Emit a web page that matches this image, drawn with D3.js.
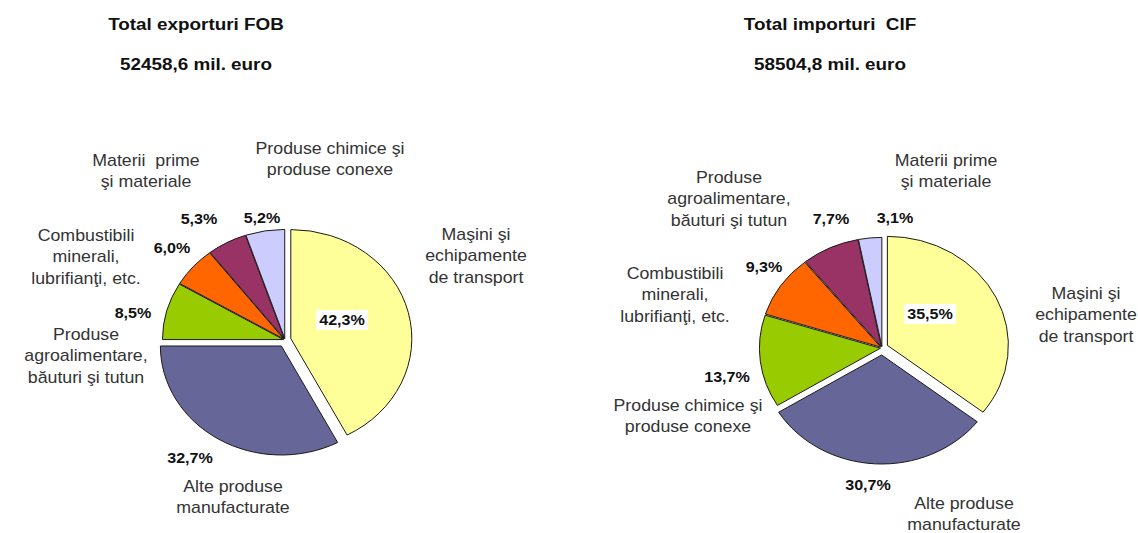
<!DOCTYPE html>
<html>
<head>
<meta charset="utf-8">
<script src="https://cdn.jsdelivr.net/npm/d3@7"></script>
<style>
  html, body { margin: 0; padding: 0; background: #fff; }
  svg { display: block; }
  svg text { white-space: pre; }
</style>
</head>
<body>
<svg id="chart" width="1138" height="533"></svg>
<script>
// Structure of trade by product group (% of total)
const exportTitle = ["Total exporturi FOB", "52458,6 mil. euro"];
const exportCategories = [
  "Maşini şi echipamente de transport",
  "Alte produse manufacturate",
  "Produse agroalimentare, băuturi şi tutun",
  "Combustibili minerali, lubrifianţi, etc.",
  "Materii prime şi materiale",
  "Produse chimice şi produse conexe"
];
const exportValues = [42.3, 32.7, 8.5, 6.0, 5.3, 5.2];

const importTitle = ["Total importuri  CIF", "58504,8 mil. euro"];
const importCategories = [
  "Maşini şi echipamente de transport",
  "Alte produse manufacturate",
  "Produse chimice şi produse conexe",
  "Combustibili minerali, lubrifianţi, etc.",
  "Produse agroalimentare, băuturi şi tutun",
  "Materii prime şi materiale"
];
const importValues = [35.5, 30.7, 13.7, 9.3, 7.7, 3.1];

// How each category name is broken over lines
const labelLines = {
  "Maşini şi echipamente de transport": ["Maşini şi", "echipamente", "de transport"],
  "Alte produse manufacturate": ["Alte produse", "manufacturate"],
  "Produse agroalimentare, băuturi şi tutun": ["Produse", "agroalimentare,", "băuturi şi tutun"],
  "Combustibili minerali, lubrifianţi, etc.": ["Combustibili", "minerali,", "lubrifianţi, etc."],
  "Materii prime şi materiale": ["Materii prime", "şi materiale"],
  "Produse chimice şi produse conexe": ["Produse chimice şi", "produse conexe"]
};

// Slice fills, by position around the pie
const sliceColors = ["#FFFF99", "#666699", "#99CC00", "#FF6600", "#993366", "#CCCCFF"];

// Layout
const R = 109;          // pie radius
const SX = 1.11;        // horizontal stretch of the whole drawing
const explode = [6, 7, 1.6, 1.6, 1.6, 1.6];
const fontFamily = "'Liberation Sans', Arial, Helvetica, sans-serif";

const charts = [
  {
    title: exportTitle, categories: exportCategories, values: exportValues,
    titleX: 196, cx: 285, cy: 340,
    // percent label offsets from the pie centre
    pct: [[57, -20], [-95, 118], [-152, -27], [-113, -92], [-86, -121], [-23, -122]],
    // category label first-line centres (absolute), optional line override
    cat: [[476, 234], [233, 486], [86, 334], [86, 235], [146, 160, ["Materii  prime", "şi materiale"]], [330, 148]]
  },
  {
    title: importTitle, categories: importCategories, values: importValues,
    titleX: 830, cx: 882, cy: 348,
    pct: [[48, -34], [-14, 137], [-155, 29], [-118, -81], [-51, -129], [13, -130]],
    cat: [[1086, 293], [964, 503], [688, 405], [675, 273], [729, 177], [946, 160]]
  }
];

const svg = d3.select("#chart");
const pie = d3.pie().sort(null).value(d => d);
const arc = d3.arc().innerRadius(0).outerRadius(R);

function stretchedText(sel, x, y, txt) {
  return sel.append("text")
    .attr("transform", `translate(${x},${y}) scale(${SX},1)`)
    .attr("text-anchor", "middle")
    .attr("dy", "0.35em")
    .text(txt);
}

charts.forEach(c => {
  // Titles
  const tg = svg.append("g")
    .attr("font-family", fontFamily)
    .attr("font-weight", "bold")
    .attr("font-size", 17)
    .attr("fill", "#111");
  stretchedText(tg, c.titleX, 24, c.title[0]);
  stretchedText(tg, c.titleX, 64, c.title[1]);

  // Slices
  const arcs = pie(c.values);
  const g = svg.append("g").attr("transform", `translate(${c.cx},${c.cy})`);
  const sg = g.append("g").attr("transform", `scale(${SX},1)`);
  sg.selectAll("path")
    .data(arcs)
    .join("path")
    .attr("d", arc)
    .attr("transform", (d, i) => {
      const a = (d.startAngle + d.endAngle) / 2;
      return `translate(${explode[i] * Math.sin(a) / SX},${-explode[i] * Math.cos(a)})`;
    })
    .attr("fill", (d, i) => sliceColors[i])
    .attr("stroke", "#1a1a1a")
    .attr("stroke-width", 1)
    .attr("vector-effect", "non-scaling-stroke");

  // Percent labels
  const pg = g.append("g")
    .attr("font-family", fontFamily)
    .attr("font-weight", "bold")
    .attr("font-size", 14.5)
    .attr("fill", "#111");
  arcs.forEach((d, i) => {
    const txt = d3.format(".1f")(d.data).replace(".", ",") + "%";
    const [x, y] = c.pct[i];
    if (i === 0) {
      pg.append("rect")
        .attr("x", x - 26).attr("y", y - 10)
        .attr("width", 52).attr("height", 20)
        .attr("fill", "#fff");
    }
    stretchedText(pg, x, y, txt);
  });

  // Category labels
  const cg = svg.append("g")
    .attr("font-family", fontFamily)
    .attr("font-size", 16)
    .attr("fill", "#333");
  c.categories.forEach((name, i) => {
    const [x, y, lines] = c.cat[i];
    (lines || labelLines[name]).forEach((line, k) => {
      stretchedText(cg, x, y + k * 21.5, line);
    });
  });
});
</script>
</body>
</html>
